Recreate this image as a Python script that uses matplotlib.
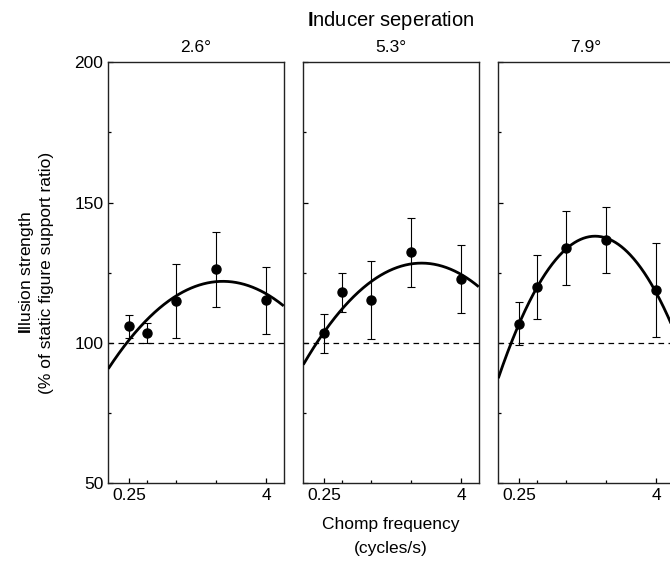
import numpy as np
import matplotlib
matplotlib.use("Agg")
import matplotlib.pyplot as plt

plt.rcParams['font.family'] = ['Liberation Sans', 'DejaVu Sans']
plt.rcParams['mathtext.fontset'] = 'custom'
plt.rcParams['mathtext.rm'] = 'Liberation Sans'
plt.rcParams['mathtext.bf'] = 'Liberation Sans:bold'

# ---- data ----
panel_titles = ["2.6°", "5.3°", "7.9°"]
freqs = [0.25, 0.36, 0.65, 1.45, 4.0]
means = [
    [105.8, 103.4, 114.9, 126.2, 115.1],
    [103.4, 118.0, 115.1, 132.3, 122.7],
    [106.8, 119.9, 133.8, 136.6, 118.7],
]
errs = [
    [4.0, 3.5, 13.1, 13.3, 11.8],
    [7.0, 6.9, 13.9, 12.3, 12.2],
    [7.7, 11.3, 13.3, 11.7, 16.8],
]
# fitted curve (quadratic in log2 frequency) parameters
fit_peak_freq = [1.67, 1.80, 1.165]
fit_peak_value = [121.9, 128.4, 138.0]
fit_curvature = [-2.78, -3.03, -6.33]

xtick_major = [0.25, 4]
xtick_major_labels = ["0.25", "4"]
yticks_major = [50, 100, 150, 200]
yticks_minor = [75, 125, 175]
baseline = 100

W, H = 670, 561
fig = plt.figure(figsize=(W / 100, H / 100), dpi=100)

ax_w = 175.4 / W
ax_bottom = 1 - 483 / H
ax_h = (483 - 62.3) / H
lefts = [108.3 / W, 303.3 / W, 498.3 / W]

xmin, xmax = 0.164, 5.72

for i in range(3):
    ax = fig.add_axes([lefts[i], ax_bottom, ax_w, ax_h])
    ax.set_xscale('log')
    ax.set_xlim(xmin, xmax)
    ax.set_ylim(50, 200)

    ax.axhline(baseline, color='black', lw=0.9, ls=(0, (4.5, 3.5)), zorder=1)

    xs = np.logspace(np.log10(xmin), np.log10(xmax), 300)
    u = np.log2(xs)
    up = np.log2(fit_peak_freq[i])
    ys = fit_peak_value[i] + fit_curvature[i] * (u - up) ** 2
    ax.plot(xs, ys, color='black', lw=2.0, zorder=3, solid_capstyle='butt')

    ax.errorbar(freqs, means[i], yerr=errs[i], fmt='o', color='black',
                ms=6.5, elinewidth=0.8, capsize=2.8, capthick=0.8, zorder=4)

    ax.set_xticks(xtick_major)
    ax.set_xticklabels(xtick_major_labels)
    ax.set_xticks(freqs[1:4], minor=True)
    ax.xaxis.set_minor_formatter(matplotlib.ticker.NullFormatter())
    ax.set_yticks(yticks_major)
    ax.set_yticks(yticks_minor, minor=True)
    if i == 0:
        ax.set_yticklabels([str(v) for v in yticks_major])
    else:
        ax.set_yticklabels([])
    ax.tick_params(which='major', direction='in', length=3.8, width=0.9,
                   labelsize=12.5, pad=3.5, top=False, right=False)
    ax.tick_params(which='minor', direction='in', length=2.5, width=0.9,
                   top=False, right=False)
    for s in ax.spines.values():
        s.set_linewidth(1.0)
        s.set_color('#222222')
    if i == 2:
        ax.spines['right'].set_visible(False)

    cx = lefts[i] + ax_w / 2
    fig.text(cx, 1 - 48 / H, panel_titles[i], ha='center', va='center', fontsize=12.5)

mid_x = lefts[1] + ax_w / 2
fig.text(mid_x, 1 - 20 / H, r"$\mathbf{I}$nducer seperation", ha='center', va='center', fontsize=14.5)
fig.text(mid_x, 1 - 524 / H, "Chomp frequency", ha='center', va='center', fontsize=12.5)
fig.text(mid_x, 1 - 549 / H, "(cycles/s)", ha='center', va='center', fontsize=12.5)

ycen = 1 - 272.5 / H
fig.text(26 / W, ycen, r"$\mathbf{I}$llusion strength", rotation=90, ha='center', va='center', fontsize=12.5)
fig.text(47 / W, ycen, "(% of static figure support ratio)", rotation=90, ha='center', va='center', fontsize=12.5)

fig.savefig("out.png", dpi=100)
